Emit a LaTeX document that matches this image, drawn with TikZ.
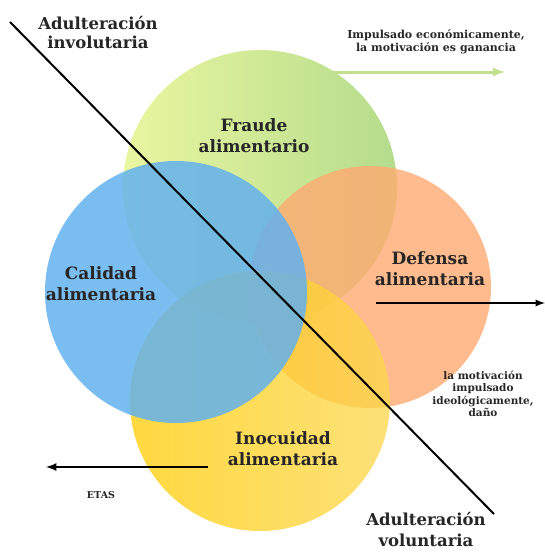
\documentclass[tikz,border=0pt]{standalone}
\usepackage{fontspec}
\setmainfont{DejaVu Serif}
\usepackage{xcolor}
\definecolor{fraude-l}{HTML}{EAF6A0}
\definecolor{fraude-r}{HTML}{B4DC8C}
\definecolor{calidad}{HTML}{63B1ED}
\definecolor{defensa}{HTML}{FFAA70}
\definecolor{inocuidad-l}{HTML}{FFCB00}
\definecolor{inocuidad-r}{HTML}{FCD74A}
\definecolor{lime-arrow}{HTML}{C2E08E}
\usetikzlibrary{positioning}

\begin{document}
\begin{tikzpicture}[x=1pt,y=-1pt,>=latex,
  lbl/.style={font=\bfseries\fontsize{17}{21}\selectfont,align=center,text=black!85},
  note/.style={font=\bfseries\fontsize{10.5}{12.5}\selectfont,align=center,text=black!85}]
\useasboundingbox (0,0) rectangle (545,552);
% circles
\shade[left color=fraude-l,right color=fraude-r] (260,187) circle (137);
\fill[defensa,fill opacity=.8] (370,287) circle (121);
\shade[left color=inocuidad-l,right color=inocuidad-r,fill opacity=.75] (260,401) circle (130);
\fill[calidad,fill opacity=.85] (176,292) circle (131);
% texts
\path
(254,136) node[lbl] (fraude) {Fraude\\alimentario}
(101,284) node[lbl] (calidad) {Calidad\\alimentaria}
(430,269) node[lbl] (defensa) {Defensa\\alimentaria}
(283,449) node[lbl] (inocuidad) {Inocuidad\\alimentaria}
(98,33)   node[lbl,font=\bfseries\fontsize{16.5}{19}\selectfont] (invol) {Adulteración\\involutaria}
(426,530) node[lbl,font=\bfseries\fontsize{16.5}{21}\selectfont] (vol) {Adulteración\\voluntaria}
(436,42)  node[note,font=\bfseries\fontsize{11}{13}\selectfont] (econ) {Impulsado económicamente,\\la motivación es ganancia}
(483,394) node[note] (ideo) {la motivación\\impulsado\\ideológicamente,\\daño}
(101,495) node[note,font=\bfseries\fontsize{9.5}{11}\selectfont] (etas) {ETAS};
% lines and arrows
\coordinate (d1) at (10,22);
\coordinate (d2) at (494,514);
\coordinate (g1) at (332,72);
\coordinate (g2) at (505,72);
\coordinate (r1) at (376,303);
\coordinate (r2) at (545,303);
\coordinate (l1) at (208,467);
\coordinate (l2) at (46,467);
\draw[line width=2pt] (d1)--(d2);
\draw[->,lime-arrow,line width=3pt] (g1)--(g2);
\draw[->,line width=2.2pt] (r1)--(r2);
\draw[->,line width=2.5pt] (l1)--(l2);
\end{tikzpicture}
\end{document}
